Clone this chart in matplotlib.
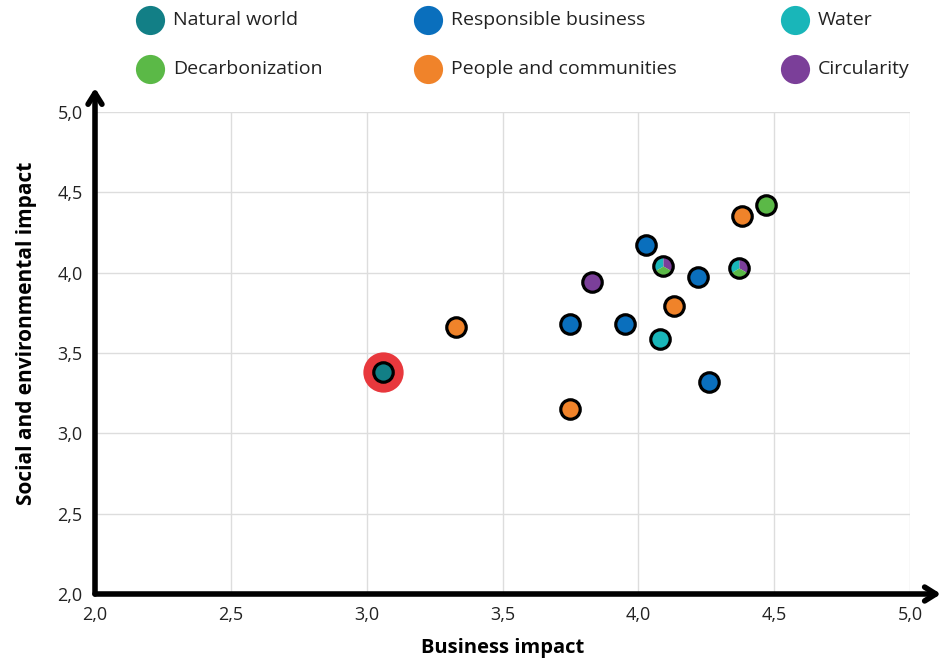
import numpy as np
import matplotlib.pyplot as plt
from matplotlib.lines import Line2D

plt.rcParams['font.family'] = ['Open Sans', 'DejaVu Sans']

# category colours
cat_names = ['Natural world', 'Responsible business', 'Water',
             'Decarbonization', 'People and communities', 'Circularity']
cat_colors = ['#127f86', '#0a6fbd', '#19b6b9', '#5bb947', '#f0832a', '#7b3f99']

# points per category (business impact, social and environmental impact)
natural_x = [3.06]
natural_y = [3.38]
business_x = [3.75, 3.95, 4.03, 4.22, 4.26]
business_y = [3.68, 3.68, 4.17, 3.97, 3.32]
water_x = [4.08]
water_y = [3.59]
decarb_x = [4.47]
decarb_y = [4.42]
people_x = [3.33, 3.75, 4.13, 4.38]
people_y = [3.66, 3.15, 3.79, 4.35]
circ_x = [3.83]
circ_y = [3.94]
# mixed points (water / circularity / decarbonization)
mixed_x = [4.09, 4.37]
mixed_y = [4.04, 4.03]

highlight_x = [3.06]
highlight_y = [3.38]

x_ticks = [2.0, 2.5, 3.0, 3.5, 4.0, 4.5, 5.0]
y_ticks = [2.0, 2.5, 3.0, 3.5, 4.0, 4.5, 5.0]

fig = plt.figure(figsize=(9.48, 6.68), dpi=100)
ax = fig.add_axes([95 / 948, 1 - 594 / 668, (910 - 95) / 948, (594 - 112) / 668])

ax.set_xlim(2.0, 5.0)
ax.set_ylim(2.0, 5.0)
ax.set_xticks(x_ticks)
ax.set_yticks(y_ticks)
ax.set_xticklabels([f'{t:.1f}'.replace('.', ',') for t in x_ticks], fontsize=13)
ax.set_yticklabels([f'{t:.1f}'.replace('.', ',') for t in y_ticks], fontsize=13)
ax.tick_params(length=0, pad=9, colors='#222222')
ax.grid(True, color='#dddddd', linewidth=1)
ax.set_axisbelow(True)
for s in ax.spines.values():
    s.set_visible(False)

# axis arrows
ax.annotate('', xy=(1.038, 0), xytext=(0, 0), xycoords='axes fraction',
            arrowprops=dict(arrowstyle='->,head_length=0.8,head_width=0.5',
                            lw=4, color='black', shrinkA=0, shrinkB=0),
            annotation_clip=False)
ax.annotate('', xy=(0, 1.05), xytext=(0, 0), xycoords='axes fraction',
            arrowprops=dict(arrowstyle='->,head_length=0.8,head_width=0.5',
                            lw=4, color='black', shrinkA=0, shrinkB=0),
            annotation_clip=False)

ax.set_xlabel('Business impact', fontsize=14.5, fontweight='bold', labelpad=10)
ax.set_ylabel('Social and environmental impact', fontsize=15,
              fontweight='bold')
ax.yaxis.set_label_coords(-0.071, 0.54)

ms = 14
mew = 2.3
ax.plot(highlight_x, highlight_y, 'o', ms=29, color='#e8383d', mew=0, zorder=3)
groups = [(natural_x, natural_y, cat_colors[0]),
          (business_x, business_y, cat_colors[1]),
          (water_x, water_y, cat_colors[2]),
          (decarb_x, decarb_y, cat_colors[3]),
          (people_x, people_y, cat_colors[4]),
          (circ_x, circ_y, cat_colors[5])]
for gx, gy, c in groups:
    ax.plot(gx, gy, 'o', ms=ms, mfc=c, mec='black', mew=mew, zorder=4,
            clip_on=False)

# pie markers for mixed points
wedges = [(90, 210, cat_colors[2]), (-30, 90, cat_colors[5]),
          (210, 330, cat_colors[3])]
for a0, a1, c in wedges:
    t = np.radians(np.linspace(a0, a1, 40))
    verts = np.column_stack([np.r_[0, np.cos(t), 0], np.r_[0, np.sin(t), 0]])
    ax.plot(mixed_x, mixed_y, ls='none', marker=verts, ms=ms, mfc=c,
            mec='none', mew=0, zorder=4)
ax.plot(mixed_x, mixed_y, 'o', ms=ms, mfc='none', mec='black', mew=mew,
        zorder=5)

# legend at the top
leg_x = [150, 428, 795]
leg_y = [20, 69]
order = [[0, 1, 2], [3, 4, 5]]
for r, row in enumerate(order):
    for ci, k in enumerate(row):
        fx = leg_x[ci] / 948
        fy = 1 - leg_y[r] / 668
        fig.add_artist(Line2D([fx], [fy], transform=fig.transFigure,
                              marker='o', ms=21, mfc=cat_colors[k], mew=0,
                              ls='none'))
        fig.text(fx + 23 / 948, fy, cat_names[k], fontsize=14,
                 color='#222222', va='center', ha='left')

fig.savefig('out.png', dpi=100)
